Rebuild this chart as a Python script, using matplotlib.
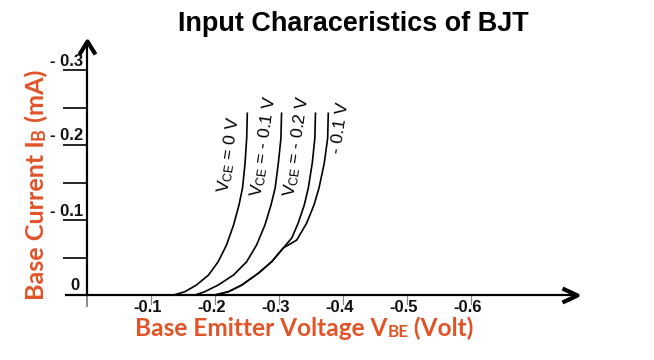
import matplotlib
matplotlib.use('Agg')
import matplotlib.pyplot as plt
from matplotlib.path import Path
from matplotlib.markers import MarkerStyle

# ---------------- data ----------------
title = 'Input Characeristics of BJT'
# axis labels as (text, is_small) pieces: small caps part sits on the baseline
x_label_parts = [('Base Emitter Voltage V', False), ('BE', True), (' (Volt)', False)]
y_label_parts = [('Base Current I', False), ('B', True), (' (mA)', False)]

# VBE in volts, IB in mA
vbe_vce0 = [-0.135, -0.153, -0.171, -0.190, -0.205, -0.218, -0.229, -0.2375, -0.243, -0.247, -0.2495, -0.2505]
ib_vce0 = [0.0, -0.0044, -0.0133, -0.0267, -0.0444, -0.0667, -0.0933, -0.120, -0.1427, -0.176, -0.209, -0.2423]

vbe_vce01 = [-0.169, -0.184, -0.205, -0.229, -0.2495, -0.265, -0.278, -0.2875, -0.294, -0.299, -0.303, -0.304]
ib_vce01 = [0.0, -0.0044, -0.0133, -0.0267, -0.0444, -0.0667, -0.0933, -0.120, -0.1427, -0.176, -0.209, -0.2423]

vbe_vce02 = [-0.200, -0.221, -0.242, -0.2677, -0.2886, -0.3067, -0.320, -0.330, -0.3395, -0.3458, -0.352, -0.356, -0.357]
ib_vce02 = [0.0, -0.0044, -0.0133, -0.029, -0.0444, -0.0627, -0.076, -0.096, -0.120, -0.1427, -0.176, -0.209, -0.2423]

vbe_vce4 = [-0.200, -0.221, -0.242, -0.2677, -0.2886, -0.3067, -0.3277, -0.3433, -0.3547, -0.3625, -0.3708, -0.376, -0.377]
ib_vce4 = [0.0, -0.0044, -0.0133, -0.029, -0.0444, -0.0627, -0.0733, -0.096, -0.120, -0.1427, -0.176, -0.209, -0.2423]

curve_labels = ['V$_{\\mathregular{CE}}$ = 0 V',
                'V$_{\\mathregular{CE}}$ = - 0.1 V',
                'V$_{\\mathregular{CE}}$ = - 0.2 V',
                '- 0.1 V']

x_ticks = [-0.1, -0.2, -0.3, -0.4, -0.5, -0.6]
x_tick_labels = ['-0.1', '-0.2', '-0.3', '-0.4', '-0.5', '-0.6']
y_tick_marks = [-0.05, -0.10, -0.15, -0.20, -0.25, -0.30]
y_label_ticks = [0.0, -0.1, -0.2, -0.3]
y_tick_labels = ['0', '- 0.1', '- 0.2', '- 0.3']

# ---------------- figure ----------------
plt.rcParams['font.family'] = ['Liberation Sans', 'DejaVu Sans']
plt.rcParams['mathtext.default'] = 'regular'

W, H = 654, 360
fig = plt.figure(figsize=(W / 100, H / 100), dpi=100)
ax = fig.add_axes([0, 0, 1, 1])
ax.set_axis_off()

# pixel mapping: origin at (87, 295); 640 px per volt, 750 px per mA
X0, Y0, SX, SY = 87, 295, 640.0, 750.0
ax.set_xlim(X0 / SX, -(W - X0) / SX)
ax.set_ylim((H - Y0) / SY, -Y0 / SY)

orange = '#E15428'
PT = 0.72  # points per pixel

# axis lines
ax.plot([0, 0], [0, -0.338], color='black', lw=1.6, solid_capstyle='butt', zorder=3)
ax.plot([0, 0], [0, 0.016], color='#777777', lw=1.2, solid_capstyle='butt', zorder=3)
ax.plot([0.034, -0.764], [0, 0], color='black', lw=1.6, solid_capstyle='butt', zorder=3)

# arrow heads (chevrons)
up = Path([(-8, -13), (0, 0), (8, -13)], [Path.MOVETO, Path.LINETO, Path.LINETO])
right = Path([(-15, 7), (0, 0), (-15, -7)], [Path.MOVETO, Path.LINETO, Path.LINETO])
ax.plot([0], [-0.3387], marker=MarkerStyle(up, joinstyle='miter'), ms=2 * 13 * PT,
        mfc='none', mec='black', mew=3.0, zorder=4)
ax.plot([-0.7656], [0], marker=MarkerStyle(right, joinstyle='miter'), ms=2 * 15 * PT,
        mfc='none', mec='black', mew=3.0, zorder=4)

# y tick marks (horizontal lines to the left of the axis)
for yt in y_tick_marks:
    ax.plot([24 / SX, 0], [yt, yt], color='black', lw=1.2, solid_capstyle='butt', zorder=3)

# y tick labels (sitting just above the tick lines)
for yt, lab in zip(y_label_ticks, y_tick_labels):
    dx = -7 if lab == '0' else -4
    ax.annotate(lab, xy=(0, yt), xytext=(dx * PT, 4.5 * PT), textcoords='offset points',
                ha='right', va='baseline', fontsize=12, fontweight='bold', color='#111111')

# x tick marks and labels
for xt, lab in zip(x_ticks, x_tick_labels):
    ax.plot([xt, xt], [0, 9 / SY], color='#888888', lw=0.8, zorder=2)
    ax.annotate(lab, xy=(xt, 0), xytext=(-3 * PT, -17 * PT), textcoords='offset points',
                ha='center', va='baseline', fontsize=12, fontweight='bold', color='#111111')

# curves
for v, i in [(vbe_vce0, ib_vce0), (vbe_vce01, ib_vce01),
             (vbe_vce02, ib_vce02), (vbe_vce4, ib_vce4)]:
    ax.plot(v, i, color='black', lw=1.2, solid_joinstyle='round', zorder=2)

# curve labels (positions in pixel space)
label_pos = [(229, 155), (264, 146), (297, 146), (340, 128)]
for (px, py), lab in zip(label_pos, curve_labels):
    ax.text(-(px - X0) / SX, -(Y0 - py) / SY, lab, rotation=82, ha='center', va='center',
            fontsize=12.5, color='black', rotation_mode='anchor')

# title
t = fig.text(353 / W, 1 - 24 / H, title, ha='center', va='center', fontsize=16,
             fontweight='bold', color='black')

# axis labels built from pieces
BIG, SMALL = 17.0, 12.0
lab_kw = dict(fontweight='bold', color=orange, family=['Lato', 'DejaVu Sans'])


def chain(parts, x, y, vertical):
    texts = []
    prev = None
    for s, small in parts:
        fs = SMALL if small else BIG
        if prev is None:
            if vertical:
                tx = fig.text(x, y, s, rotation=90, ha='right', va='bottom', fontsize=fs, **lab_kw)
            else:
                tx = fig.text(x, y, s, ha='left', va='bottom', fontsize=fs, **lab_kw)
        else:
            if vertical:
                tx = fig.add_artist(matplotlib.text.Annotation(
                    s, xy=(1, 1), xycoords=prev, rotation=90, ha='right', va='bottom',
                    fontsize=fs, **lab_kw))
            else:
                tx = fig.add_artist(matplotlib.text.Annotation(
                    s, xy=(1, 0), xycoords=prev, ha='left', va='bottom',
                    fontsize=fs, **lab_kw))
        texts.append((tx, small))
        prev = tx
    return texts


xl = chain(x_label_parts, 135 / W, 1 - 340 / H, False)
yl = chain(y_label_parts, 48 / W, 1 - 300 / H, True)

# fit sizes to the reference extents
fig.canvas.draw()
r = fig.canvas.get_renderer()
bb = t.get_window_extent(renderer=r)
t.set_fontsize(t.get_fontsize() * 350 / bb.width)

for texts, target, vertical in [(xl, 338, False), (yl, 232, True)]:
    b0 = texts[0][0].get_window_extent(renderer=r)
    b1 = texts[-1][0].get_window_extent(renderer=r)
    cur = (b1.y1 - b0.y0) if vertical else (b1.x1 - b0.x0)
    k = target / cur
    for tx, small in texts:
        tx.set_fontsize(tx.get_fontsize() * k)

fig.savefig('out.png', dpi=100)
